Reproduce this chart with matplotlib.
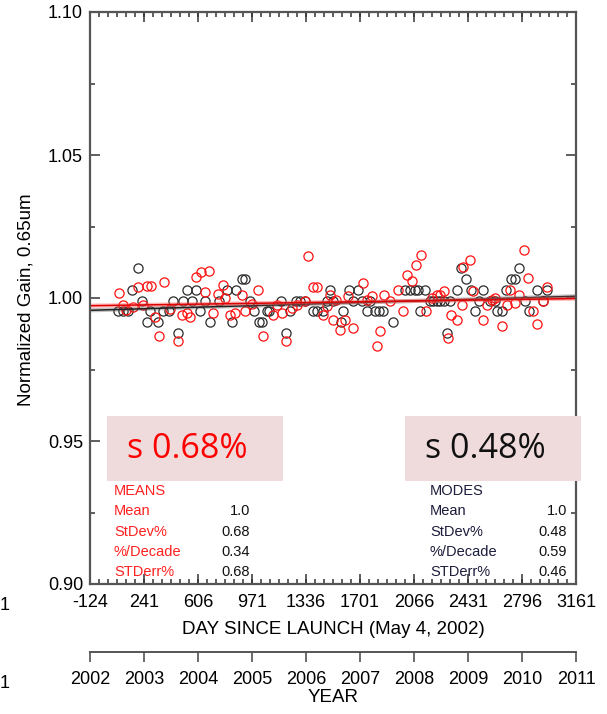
import numpy as np
import matplotlib
matplotlib.use("Agg")
import matplotlib.pyplot as plt
from matplotlib.patches import Rectangle
from matplotlib.ticker import MultipleLocator, FixedLocator

plt.rcParams["font.family"] = ["Liberation Sans", "DejaVu Sans"]

# ---- data ----
black_day = [67, 101, 135, 162, 198, 225, 259, 282, 338, 371, 410, 439, 469, 507, 530,
             563, 592, 619, 653, 688, 750, 800, 834, 863, 901, 924, 957, 987, 1020, 1037,
             1074, 1088, 1167, 1201, 1228, 1268, 1295, 1329, 1385, 1408, 1453, 1475, 1498,
             1519, 1572, 1588, 1629, 1656, 1690, 1712, 1746, 1769, 1802, 1831, 1858, 1926,
             2005, 2039, 2073, 2095, 2106, 2140, 2174, 2196, 2219, 2242, 2269, 2287, 2309,
             2355, 2382, 2415, 2449, 2478, 2507, 2534, 2580, 2613, 2625, 2659, 2688, 2722,
             2749, 2778, 2816, 2845, 2899, 2936, 2963]
black_gain = [0.9953, 0.9953, 0.9953, 1.0029, 1.0105, 0.9991, 0.9915, 0.9953, 0.9915, 0.9953,
              0.9953, 0.9991, 0.9877, 0.9991, 1.0029, 0.9991, 1.0029, 0.9953, 0.9991, 0.9915,
              0.9991, 1.0029, 0.9915, 1.0029, 1.0067, 1.0067, 0.9991, 0.9953, 0.9915, 0.9915,
              0.9953, 0.9953, 0.9991, 0.9877, 0.9953, 0.9991, 0.9991, 0.9991, 0.9953, 0.9953,
              0.9953, 0.9991, 1.0029, 0.9991, 0.9915, 0.9953, 1.0029, 0.9991, 1.0029, 0.9991,
              0.9953, 0.9991, 0.9953, 0.9953, 0.9953, 0.9915, 1.0029, 1.0029, 1.0029, 1.0029,
              0.9953, 1.0029, 0.9991, 0.9991, 0.9991, 0.9991, 0.9991, 0.9877, 0.9991, 1.0029,
              1.0105, 1.0067, 1.0029, 0.9953, 0.9991, 1.0029, 0.9991, 0.9991, 0.9953, 0.9953,
              1.0029, 1.0067, 1.0067, 1.0105, 0.9991, 0.9953, 1.0029, 0.9991, 1.0029]

red_day = [74, 101, 119, 169, 198, 232, 259, 288, 315, 344, 378, 417, 469, 496, 530, 552,
           592, 626, 653, 682, 705, 743, 773, 788, 822, 856, 901, 924, 969, 1013, 1047, 1115,
           1138, 1172, 1201, 1239, 1277, 1329, 1351, 1381, 1408, 1453, 1480, 1498, 1520,
           1539, 1566, 1600, 1623, 1656, 1720, 1747, 1781, 1814, 1836, 1864, 1904, 1960,
           1990, 2017, 2051, 2080, 2111, 2147, 2185, 2219, 2242, 2271, 2298, 2314, 2355,
           2388, 2399, 2444, 2467, 2534, 2557, 2591, 2613, 2659, 2693, 2715, 2749, 2778,
           2809, 2838, 2868, 2899, 2936, 2963]
red_gain = [1.0017, 0.9977, 0.9959, 0.9969, 1.0037, 0.9974, 1.0041, 1.0041, 0.9932, 0.9866,
            1.0055, 0.9963, 0.9848, 0.9942, 0.9948, 0.9932, 1.0073, 1.0090, 1.0021, 1.0095,
            0.9948, 1.0014, 1.0044, 1.0000, 0.9939, 0.9948, 1.0009, 0.9953, 0.9979, 1.0029,
            0.9866, 0.9942, 0.9977, 0.9948, 0.9848, 0.9965, 0.9977, 0.9988, 1.0148, 1.0037,
            1.0037, 0.9942, 0.9971, 1.0012, 0.9924, 0.9994, 0.9889, 0.9924, 1.0006, 0.9895,
            1.0052, 0.9994, 1.0006, 0.9831, 0.9886, 1.0009, 0.9988, 1.0029, 0.9956, 1.0079,
            1.0061, 1.0114, 1.0151, 0.9953, 1.0001, 1.0012, 1.0012, 1.0023, 0.9860, 0.9942,
            0.9924, 0.9977, 1.0107, 1.0134, 1.0023, 0.9924, 0.9977, 0.9994, 1.0000, 0.9901,
            0.9977, 1.0029, 0.9983, 1.0012, 1.0169, 1.0070, 0.9953, 0.9909, 0.9988, 1.0037]

trend_day = [-124, 3161]
red_trend = [0.9973, 0.9998]
black_trend = [0.9957, 1.0006]

day_ticks = [-124, 241, 606, 971, 1336, 1701, 2066, 2431, 2796, 3161]
year_ticks = list(range(2002, 2012))
gain_ticks = [0.90, 0.95, 1.00, 1.05, 1.10]

stat_names = ["Mean", "StDev%", "%/Decade", "STDerr%"]
means_stats = ["1.0", "0.68", "0.34", "0.68"]
modes_stats = ["1.0", "0.48", "0.59", "0.46"]

W, H = 607, 714
fig = plt.figure(figsize=(W / 100, H / 100), dpi=100)


def fx(px):
    return px / W


def fy(py):
    return 1 - py / H


AX_L, AX_R, AX_T, AX_B = 90, 576, 12, 584
ax = fig.add_axes([fx(AX_L), fy(AX_B), (AX_R - AX_L) / W, (AX_B - AX_T) / H])

ax.plot(black_day, black_gain, "o", ms=6.6, mfc="none", mec="#2b2b2b", mew=0.9)
ax.plot(red_day, red_gain, "o", ms=6.6, mfc="none", mec="#ff1010", mew=0.9)

# fitted trend lines (a pale band under a thin line, like the original)
ax.plot(trend_day, black_trend, color="#555555", lw=3, alpha=0.35, solid_capstyle="butt")
ax.plot(trend_day, black_trend, color="#222222", lw=1.1)
ax.plot(trend_day, red_trend, color="#ff6060", lw=3, alpha=0.45, solid_capstyle="butt")
ax.plot(trend_day, red_trend, color="#dd0000", lw=1.1)

ax.set_xlim(-124, 3161)
ax.set_ylim(0.90, 1.10)
ax.xaxis.set_major_locator(FixedLocator(day_ticks))
ax.xaxis.set_minor_locator(MultipleLocator(365 / 6))
ax.set_xticklabels([str(d) for d in day_ticks])
ax.yaxis.set_major_locator(FixedLocator(gain_ticks))
ax.yaxis.set_minor_locator(MultipleLocator(0.025))
ax.set_yticklabels([f"{g:.2f}" for g in gain_ticks])

ax.tick_params(which="both", direction="in", top=True, right=True, color="#333333", width=1.1)
ax.tick_params(which="major", length=7)
ax.tick_params(which="minor", length=3.5)
ax.tick_params(axis="x", labelsize=13, pad=7)
ax.tick_params(axis="y", labelsize=13, pad=5)
for s in ax.spines.values():
    s.set_color("#555555")
    s.set_linewidth(1.6)

fig.text(fx(26), fy(300), "Normalized Gain, 0.65um", rotation=90, ha="center", va="center",
         fontsize=13.5)
fig.text(fx(333), fy(630), "DAY SINCE LAUNCH (May 4, 2002)", ha="center", va="center",
         fontsize=13.5)

# year axis under the day axis
yax = fig.add_axes([fx(AX_L), fy(652), (AX_R - AX_L) / W, 0.0001])
yax.set_xlim(2002, 2011)
yax.set_xticks(year_ticks)
yax.set_xticklabels([str(y) for y in year_ticks])
yax.set_yticks([])
for side in ("top", "left", "right"):
    yax.spines[side].set_visible(False)
yax.spines["bottom"].set_color("#555555")
yax.spines["bottom"].set_linewidth(1.4)
yax.tick_params(axis="x", direction="out", length=7, width=1.1, color="#444444",
                labelsize=13, pad=7)
fig.text(fx(333), fy(698), "YEAR", ha="center", va="center", fontsize=13.5)

# stray cropped labels on the far left
fig.text(fx(5), fy(606), "1", ha="center", va="center", fontsize=13)
fig.text(fx(5), fy(683), "1", ha="center", va="center", fontsize=13)

# pink callout boxes
box_col = "#efdbdb"
fig.patches.append(Rectangle((fx(107), fy(481)), (283 - 107) / W, (481 - 416) / H,
                             transform=fig.transFigure, facecolor=box_col, edgecolor="none",
                             zorder=5))
fig.patches.append(Rectangle((fx(405), fy(481)), (581 - 405) / W, (481 - 416) / H,
                             transform=fig.transFigure, facecolor=box_col, edgecolor="none",
                             zorder=5))
fig.text(fx(127), fy(449), "s 0.68%", color="#ff0000", fontsize=24.5, family="Open Sans",
         ha="left", va="center", zorder=6)
fig.text(fx(425), fy(449), "s 0.48%", color="#111111", fontsize=24.5, family="Open Sans",
         ha="left", va="center", zorder=6)

# statistics tables
row_y = [511, 531.5, 551.5, 572]
fig.text(fx(114), fy(491), "MEANS", color="#ff2020", fontsize=10.5, va="center")
fig.text(fx(430), fy(491), "MODES", color="#1c1c3c", fontsize=10.5, va="center")
for name, m, d, y in zip(stat_names, means_stats, modes_stats, row_y):
    fig.text(fx(114), fy(y), name, color="#ff2020", fontsize=10.5, va="center")
    fig.text(fx(250), fy(y), m, color="#111111", fontsize=10.5, va="center", ha="right")
    fig.text(fx(430), fy(y), name, color="#1c1c3c", fontsize=10.5, va="center")
    fig.text(fx(567), fy(y), d, color="#111111", fontsize=10.5, va="center", ha="right")

fig.savefig("out.png", dpi=100)
